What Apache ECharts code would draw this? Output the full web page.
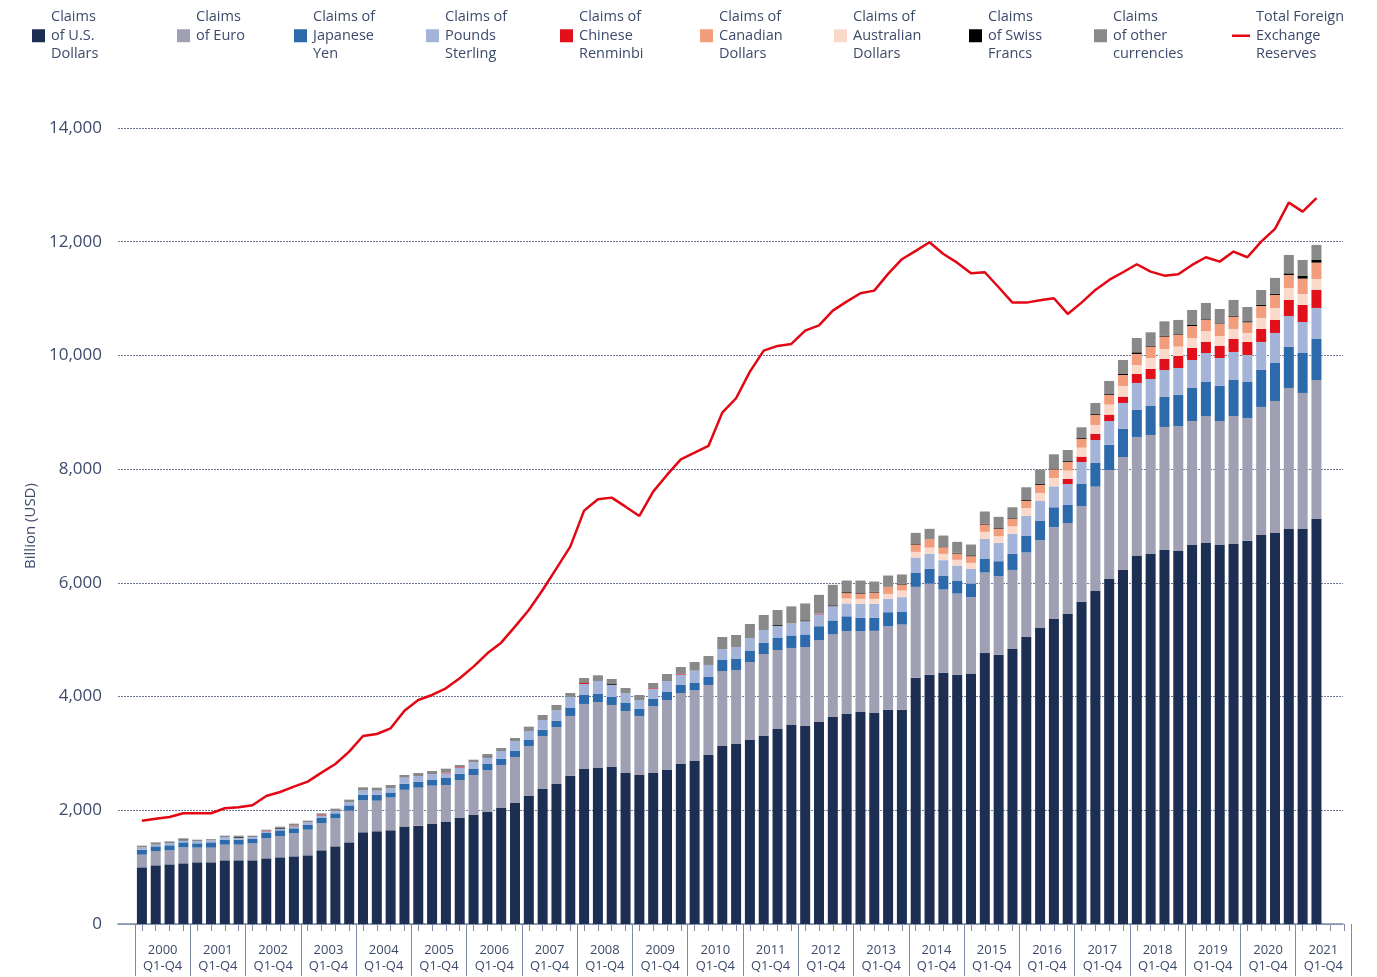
<!DOCTYPE html>
<html>
<head>
<meta charset="utf-8">
<title>Foreign exchange reserves by currency</title>
<script src="https://cdn.jsdelivr.net/npm/echarts@6/dist/echarts.min.js"></script>
<style>
  html, body { margin: 0; padding: 0; background: #fff; }
  #chart { width: 1377px; height: 977px; }
</style>
</head>
<body>
<div id="chart"></div>
<script>
// years on the axis, one band of four quarters each (2021 only has Q1, Q2 data)
var years = [2000, 2001, 2002, 2003, 2004, 2005, 2006, 2007, 2008, 2009, 2010,
             2011, 2012, 2013, 2014, 2015, 2016, 2017, 2018, 2019, 2020, 2021];

// billions of USD, 2000 Q1 .. 2021 Q2
var usd = [997,1032,1049,1067,1085,1085,1120,1120,1120,1155,
           1173,1190,1208,1296,1366,1436,1612,1630,1647,1715,
           1730,1759,1794,1864,1917,1970,2040,2128,2251,2375,
           2462,2606,2726,2744,2761,2656,2621,2656,2709,2814,
           2867,2973,3131,3166,3236,3307,3430,3500,3483,3553,
           3641,3694,3729,3711,3768,3768,4330,4383,4418,4383,
           4405,4765,4735,4837,5048,5206,5365,5453,5669,5857,
           6068,6226,6479,6508,6578,6561,6666,6701,6666,6684,
           6742,6842,6877,6948,6948,7123];
var eur = [222,246,247,282,258,258,275,275,299,352,
           369,405,451,475,493,557,563,539,578,645,
           668,674,651,669,704,739,757,809,880,932,
           1003,1053,1144,1161,1091,1090,1038,1178,1231,1249,
           1249,1231,1319,1302,1372,1442,1389,1355,1389,1442,
           1452,1456,1421,1445,1470,1499,1600,1605,1465,1429,
           1343,1417,1382,1390,1487,1548,1618,1600,1683,1835,
           1917,1988,2087,2093,2164,2198,2181,2234,2181,2251,
           2158,2252,2322,2480,2392,2445];
var jpy = [88,88,88,87,76,93,88,88,76,94,
           105,88,82,93,87,94,100,103,88,105,
           105,100,123,111,105,105,111,112,105,111,
           108,140,158,140,141,141,123,124,141,141,
           123,141,193,193,194,194,211,220,221,242,
           246,262,234,228,246,229,252,258,246,229,
           240,246,264,281,289,334,346,317,387,416,
           446,493,475,510,527,546,581,598,616,633,
           633,650,668,721,703,721];
var gbp = [42,29,41,36,41,36,47,35,35,29,
           30,35,47,41,42,59,76,73,76,109,
           100,105,82,106,118,118,135,170,159,170,
           185,194,193,229,211,170,158,175,193,182,
           217,211,194,211,228,228,212,212,232,208,
           251,226,247,247,235,252,264,264,270,264,
           258,346,323,352,352,352,369,369,387,405,
           416,457,475,475,475,474,492,510,492,493,
           475,493,528,545,545,546];
var rmb = [0,0,0,0,0,0,0,0,0,10,
           0,10,0,10,0,0,0,0,0,0,
           0,0,12,10,0,0,0,0,0,0,
           0,0,18,0,0,0,0,12,0,12,
           0,0,0,0,0,0,0,0,0,12,
           0,0,0,0,0,0,0,0,0,0,
           0,0,0,0,0,0,0,88,94,106,
           112,111,158,176,194,212,211,194,212,228,
           229,229,229,282,300,316];
var aud = [0,0,0,0,0,0,0,0,0,0,
           0,0,0,0,0,0,0,0,0,0,
           0,0,0,0,0,0,0,0,0,0,
           0,0,0,0,0,0,0,0,0,0,
           0,0,0,0,0,0,0,0,0,0,
           0,88,88,88,87,117,99,111,111,100,
           106,123,117,134,141,141,147,147,158,158,
           176,188,158,193,176,164,176,193,175,177,
           158,193,211,210,193,194];
var cad = [0,0,0,0,0,0,0,0,0,0,
           0,0,0,0,0,0,0,0,0,0,
           0,0,0,0,0,0,0,0,0,0,
           0,0,0,0,0,0,0,0,0,0,
           0,0,0,0,0,0,0,0,0,0,
           0,94,88,111,124,106,129,147,117,111,
           117,129,129,129,123,141,152,152,153,176,
           169,193,194,200,217,211,211,200,211,216,
           188,211,229,229,270,287];
var chf = [0,0,0,15,0,0,0,15,0,0,
           15,0,0,0,0,0,0,0,0,0,
           0,0,0,0,0,15,0,0,0,0,
           0,0,0,0,15,0,0,0,0,0,
           0,0,0,0,0,0,15,0,15,0,
           15,15,11,12,0,11,18,0,12,12,
           15,12,12,12,15,15,15,15,15,15,
           15,18,29,18,18,10,18,10,10,18,
           18,18,18,29,47,47];
var oth = [29,41,29,20,23,20,24,21,24,19,
           20,37,30,31,41,41,53,53,56,47,
           53,53,70,37,46,43,53,53,76,88,
           94,70,88,100,90,94,88,94,123,122,
           152,158,211,211,247,264,266,299,298,332,
           360,206,223,181,199,165,187,182,193,193,
           190,217,199,194,226,254,249,196,190,196,
           232,246,252,234,251,248,264,283,254,276,
           251,263,281,323,281,264];
var total = [1817,1852,1882,1947,1947,1947,2035,2053,2088,2252,
             2322,2416,2504,2662,2814,3031,3307,3342,3442,3752,
             3940,4028,4145,4321,4526,4761,4948,5230,5523,5875,
             6256,6637,7270,7470,7499,7340,7177,7605,7898,8173,
             8290,8408,8994,9247,9715,10085,10167,10202,10436,10530,
             10788,10946,11094,11140,11434,11692,11838,11991,11785,11632,
             11446,11463,11199,10929,10929,10970,11006,10730,10929,11152,
             11328,11463,11604,11474,11403,11428,11592,11727,11650,11826,
             11727,12002,12225,12688,12530,12765];

var quarters = [];
for (var y of years) {
  for (var q = 1; q <= 4; q++) {
    quarters.push(y + ' Q' + q);
  }
}

var textColor = '#3d4b6b';
var axisColor = '#7f8ba6';
var font = 'Open Sans';

// series in stacking order (bottom to top)
var barSeries = [
  { name: 'Claims of U.S. Dollars', data: usd, color: '#1c2f52' },
  { name: 'Claims of Euro', data: eur, color: '#9fa0b4' },
  { name: 'Claims of Japanese Yen', data: jpy, color: '#2d6aab' },
  { name: 'Claims of Pounds Sterling', data: gbp, color: '#a4b4d8' },
  { name: 'Claims of Chinese Renminbi', data: rmb, color: '#e2101b' },
  { name: 'Claims of Australian Dollars', data: aud, color: '#fbd9ca' },
  { name: 'Claims of Canadian Dollars', data: cad, color: '#f29d7c' },
  { name: 'Claims of Swiss Francs', data: chf, color: '#000000' },
  { name: 'Claims of other currencies', data: oth, color: '#898989' }
];
var lineName = 'Total Foreign Exchange Reserves';

// legend order as in the picture
var legendNames = ['Claims of U.S. Dollars', 'Claims of Euro', 'Claims of Japanese Yen',
  'Claims of Pounds Sterling', 'Claims of Chinese Renminbi', 'Claims of Canadian Dollars',
  'Claims of Australian Dollars', 'Claims of Swiss Francs', 'Claims of other currencies', lineName];
var legendLabels = ['Claims\nof U.S.\nDollars', 'Claims\nof Euro\n\u00a0', 'Claims of\nJapanese\nYen',
  'Claims of\nPounds\nSterling', 'Claims of\nChinese\nRenminbi', 'Claims of\nCanadian\nDollars',
  'Claims of\nAustralian\nDollars', 'Claims\nof Swiss\nFrancs', 'Claims\nof other\ncurrencies',
  'Total Foreign\nExchange\nReserves'];
var legendLeft = [27, 172, 289, 421, 555, 695, 829, 964, 1089, 1227];

var legends = legendNames.map(function (n, i) {
  var isLine = (n === lineName);
  return {
    left: legendLeft[i],
    top: 3,
    data: [n],
    icon: 'rect',
    itemWidth: isLine ? 18 : 13,
    itemHeight: isLine ? 2.5 : 13,
    selectedMode: false,
    formatter: function () { return legendLabels[i]; },
    textStyle: { fontFamily: font, fontSize: 14.5, color: textColor, lineHeight: 18.5, padding: [0, 0, 0, 1] }
  };
});

var series = barSeries.map(function (s) {
  return {
    name: s.name,
    type: 'bar',
    stack: 'claims',
    xAxisIndex: 1,
    yAxisIndex: 1,
    barWidth: 10,
    data: s.data,
    itemStyle: { color: s.color }
  };
});
series.push({
  name: lineName,
  type: 'line',
  xAxisIndex: 1,
  yAxisIndex: 1,
  data: total,
  symbol: 'none',
  z: 5,
  lineStyle: { color: '#e30613', width: 2.5 },
  itemStyle: { color: '#e30613' }
});

var chart = echarts.init(document.getElementById('chart'));

var option = {
  animation: false,
  backgroundColor: '#ffffff',
  legend: legends,
  grid: [
    // grid 0: the frame, y labels and gridlines
    { left: 118, right: 34, top: 128, bottom: 53 },
    // grid 1: the bars and the line
    { left: 135, right: 26, top: 128, bottom: 53 }
  ],
  xAxis: [
    {
      gridIndex: 0, type: 'category', data: quarters,
      axisLine: { show: true, lineStyle: { color: axisColor, width: 1.5 } },
      axisTick: { show: false }, axisLabel: { show: false }
    },
    {
      gridIndex: 1, type: 'category', data: quarters, position: 'bottom',
      axisLine: { show: false },
      axisTick: { show: true, alignWithLabel: true, interval: 0, length: 7, lineStyle: { color: axisColor } },
      axisLabel: { show: false }
    },
    {
      gridIndex: 1, type: 'category', data: years, position: 'bottom',
      axisLine: { show: false },
      axisTick: { show: true, interval: 0, length: 52, lineStyle: { color: axisColor } },
      axisLabel: {
        interval: 0, margin: 18,
        fontFamily: font, fontSize: 13, lineHeight: 16, color: textColor,
        formatter: function (v) { return v + '\nQ1-Q4'; }
      }
    }
  ],
  yAxis: [
    {
      gridIndex: 0, type: 'value', min: 0, max: 14000, interval: 2000,
      name: 'Billion (USD)', nameLocation: 'middle', nameGap: 78,
      nameTextStyle: { fontFamily: font, fontSize: 15, color: textColor },
      axisLine: { show: false }, axisTick: { show: false },
      axisLabel: {
        margin: 16, fontFamily: font, fontSize: 17, color: textColor,
        formatter: function (v) { return v.toLocaleString('en-US'); }
      },
      splitLine: { show: true, lineStyle: { color: '#6f7b96', width: 1, type: [2, 1] } }
    },
    {
      gridIndex: 1, type: 'value', min: 0, max: 14000, interval: 2000, show: false,
      splitLine: { show: false }
    }
  ],
  series: series
};

chart.setOption(option);
</script>
</body>
</html>
